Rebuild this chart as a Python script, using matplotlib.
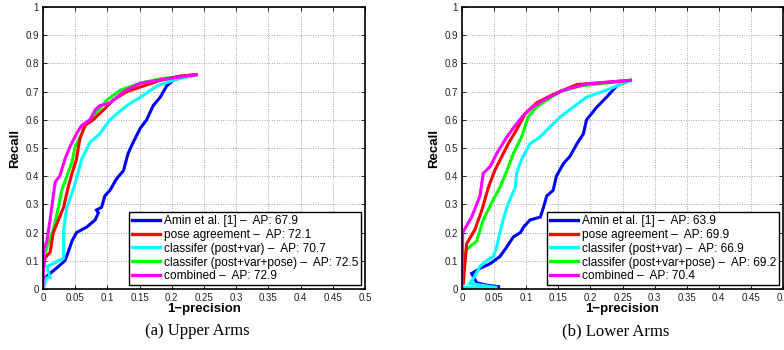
import matplotlib
matplotlib.use("Agg")
import matplotlib.pyplot as plt

plt.rcParams['font.family'] = ['Liberation Sans', 'DejaVu Sans']

series_names = ["Amin et al. [1]", "pose agreement", "classifer (post+var)",
                "classifer (post+var+pose)", "combined"]
colors = ["#0000ff", "#ff0000", "#00ffff", "#00ff00", "#ff00ff"]

# ---- Upper arms ----
ua_ap = [67.9, 72.1, 70.7, 72.5, 72.9]
ua_blue_x = [0.003, 0.011, 0.024, 0.034, 0.039, 0.045, 0.052, 0.068, 0.081, 0.086, 0.083, 0.091, 0.096, 0.104, 0.114, 0.125, 0.132, 0.140, 0.151, 0.161, 0.171, 0.182, 0.192, 0.202, 0.218, 0.238]
ua_blue_y = [0.04, 0.055, 0.08, 0.10, 0.13, 0.17, 0.20, 0.22, 0.245, 0.27, 0.28, 0.29, 0.33, 0.35, 0.39, 0.42, 0.48, 0.52, 0.57, 0.60, 0.65, 0.68, 0.72, 0.74, 0.755, 0.76]
ua_red_x = [0.0, 0.003, 0.011, 0.016, 0.024, 0.032, 0.039, 0.045, 0.052, 0.057, 0.065, 0.078, 0.094, 0.109, 0.130, 0.156, 0.182, 0.213, 0.238]
ua_red_y = [0.06, 0.11, 0.13, 0.20, 0.245, 0.29, 0.36, 0.41, 0.46, 0.53, 0.58, 0.60, 0.635, 0.67, 0.70, 0.72, 0.74, 0.755, 0.76]
ua_cyan_x = [0.0, 0.006, 0.011, 0.006, 0.016, 0.032, 0.032, 0.034, 0.037, 0.045, 0.052, 0.060, 0.073, 0.088, 0.104, 0.114, 0.130, 0.151, 0.177, 0.202, 0.238]
ua_cyan_y = [0.0, 0.04, 0.04, 0.08, 0.09, 0.11, 0.20, 0.245, 0.29, 0.34, 0.39, 0.46, 0.52, 0.55, 0.60, 0.62, 0.65, 0.68, 0.72, 0.74, 0.76]
ua_green_x = [0.0, 0.006, 0.016, 0.024, 0.029, 0.037, 0.045, 0.050, 0.060, 0.068, 0.081, 0.099, 0.120, 0.151, 0.182, 0.238]
ua_green_y = [0.10, 0.15, 0.21, 0.29, 0.35, 0.40, 0.45, 0.505, 0.55, 0.59, 0.62, 0.67, 0.705, 0.73, 0.745, 0.76]
ua_mag_x = [0.0, 0.001, 0.006, 0.011, 0.016, 0.019, 0.026, 0.034, 0.042, 0.052, 0.060, 0.073, 0.081, 0.088, 0.104, 0.125, 0.151, 0.192, 0.238]
ua_mag_y = [0.01, 0.14, 0.17, 0.245, 0.33, 0.38, 0.40, 0.46, 0.505, 0.55, 0.58, 0.60, 0.635, 0.65, 0.66, 0.70, 0.73, 0.745, 0.76]

# ---- Lower arms ----
la_ap = [63.9, 69.9, 66.9, 69.2, 70.4]
la_blue_x = [0.057, 0.038, 0.023, 0.015, 0.028, 0.044, 0.059, 0.070, 0.080, 0.091, 0.096, 0.106, 0.122, 0.127, 0.132, 0.142, 0.147, 0.158, 0.168, 0.179, 0.189, 0.194, 0.210, 0.225, 0.241, 0.262]
la_blue_y = [0.008, 0.014, 0.022, 0.055, 0.073, 0.09, 0.115, 0.15, 0.185, 0.20, 0.22, 0.245, 0.255, 0.29, 0.33, 0.35, 0.40, 0.445, 0.47, 0.515, 0.55, 0.60, 0.645, 0.68, 0.72, 0.74]
la_red_x = [0.002, 0.005, 0.007, 0.020, 0.031, 0.041, 0.051, 0.062, 0.072, 0.085, 0.098, 0.116, 0.142, 0.179, 0.262]
la_red_y = [0.02, 0.10, 0.16, 0.21, 0.28, 0.36, 0.42, 0.47, 0.515, 0.565, 0.62, 0.66, 0.69, 0.725, 0.74]
la_cyan_x = [0.0, 0.055, 0.012, 0.020, 0.028, 0.038, 0.049, 0.054, 0.059, 0.064, 0.070, 0.077, 0.083, 0.085, 0.093, 0.106, 0.122, 0.137, 0.153, 0.173, 0.194, 0.225, 0.262]
la_cyan_y = [0.005, 0.005, 0.02, 0.045, 0.08, 0.10, 0.115, 0.15, 0.20, 0.245, 0.29, 0.33, 0.36, 0.41, 0.46, 0.515, 0.54, 0.575, 0.61, 0.645, 0.68, 0.705, 0.74]
la_green_x = [0.002, 0.007, 0.023, 0.033, 0.046, 0.059, 0.070, 0.080, 0.093, 0.103, 0.116, 0.132, 0.153, 0.184, 0.262]
la_green_y = [0.08, 0.14, 0.17, 0.245, 0.305, 0.36, 0.42, 0.48, 0.54, 0.61, 0.645, 0.67, 0.70, 0.72, 0.74]
la_mag_x = [0.0, 0.001, 0.015, 0.028, 0.033, 0.044, 0.054, 0.070, 0.083, 0.096, 0.111, 0.132, 0.158, 0.194, 0.262]
la_mag_y = [0.002, 0.20, 0.255, 0.33, 0.41, 0.435, 0.48, 0.54, 0.58, 0.617, 0.647, 0.676, 0.705, 0.727, 0.74]

xticks = [0, 0.05, 0.1, 0.15, 0.2, 0.25, 0.3, 0.35, 0.4, 0.45, 0.5]
xticklabels = ["0", "0.05", "0.1", "0.15", "0.2", "0.25", "0.3", "0.35", "0.4", "0.45", "0.5"]
yticks = [0, 0.1, 0.2, 0.3, 0.4, 0.5, 0.6, 0.7, 0.8, 0.9, 1]
yticklabels = ["0", "0.1", "0.2", "0.3", "0.4", "0.5", "0.6", "0.7", "0.8", "0.9", "1"]
captions = ["(a) Upper Arms", "(b) Lower Arms"]

fig = plt.figure(figsize=(7.84, 3.5), dpi=100)
ax1 = fig.add_axes([43/784, 61/350, 322/784, 282/350])
ax2 = fig.add_axes([462/784, 61/350, 321/784, 282/350])

panels = [
    (ax1, ua_ap, [(ua_blue_x, ua_blue_y), (ua_red_x, ua_red_y), (ua_cyan_x, ua_cyan_y),
                  (ua_green_x, ua_green_y), (ua_mag_x, ua_mag_y)]),
    (ax2, la_ap, [(la_blue_x, la_blue_y), (la_red_x, la_red_y), (la_cyan_x, la_cyan_y),
                  (la_green_x, la_green_y), (la_mag_x, la_mag_y)]),
]
caption_x = [197, 616]

for i, (ax, aps, curves) in enumerate(panels):
    order = [0, 2, 3, 1, 4]
    handles = {}
    for k in order:
        xs, ys = curves[k]
        h, = ax.plot(xs, ys, color=colors[k], lw=2.2, solid_joinstyle='miter')
        handles[k] = h
    ax.set_xlim(0, 0.5)
    ax.set_ylim(0, 1)
    ax.set_xticks(xticks)
    ax.set_xticklabels(xticklabels)
    ax.set_yticks(yticks)
    ax.set_yticklabels(yticklabels)
    ax.tick_params(direction='in', top=True, right=True, labelsize=7, length=3, width=0.6, pad=3, colors='black')
    for lab in ax.get_xticklabels() + ax.get_yticklabels():
        lab.set_color('#222222')
    ax.grid(True, linestyle=(0, (1, 2.5)), color='#555555', linewidth=0.5)
    for s in ax.spines.values():
        s.set_linewidth(1.2)
    ax.set_xlabel("1\u2212precision", fontsize=9.5, fontweight='bold', labelpad=0)
    ax.set_ylabel("Recall", fontsize=9.5, fontweight='bold', labelpad=3)
    labels = [f"{series_names[k]} \u2013  AP: {aps[k]}" for k in range(5)]
    leg = ax.legend([handles[k] for k in range(5)], labels, loc='lower right',
                    fontsize=8.6, frameon=True, fancybox=False, edgecolor='black',
                    borderpad=0.25, labelspacing=0.16, handlelength=2.4, handletextpad=0.3,
                    borderaxespad=0.3, framealpha=1)
    leg.get_frame().set_linewidth(1.0)
    for line in leg.get_lines():
        line.set_linewidth(2.4)
    fig.text(caption_x[i] / 784, 1 - 331/350, captions[i], ha='center', va='center',
             fontsize=12, family=['Liberation Serif', 'DejaVu Serif'])

fig.savefig("out.png", dpi=100)
